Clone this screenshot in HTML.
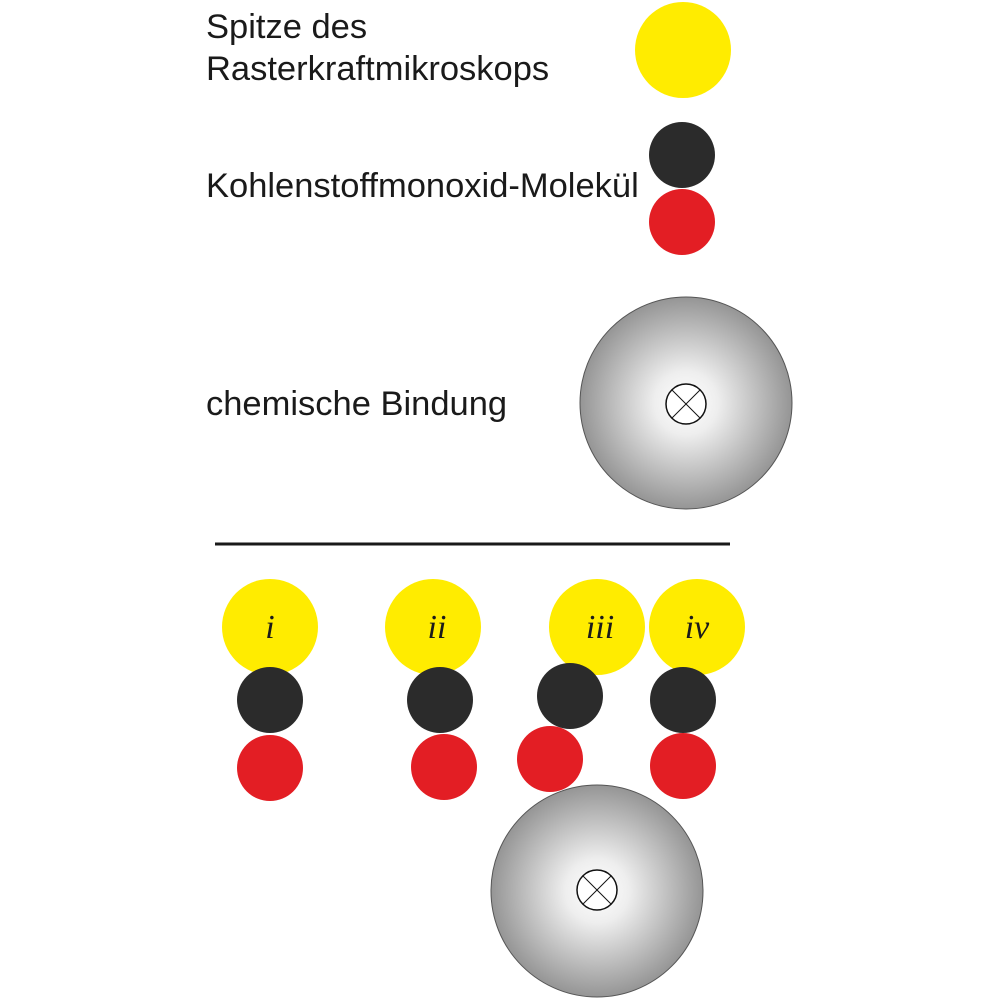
<!DOCTYPE html>
<html><head><meta charset="utf-8"><style>
html,body{margin:0;padding:0;background:#fff;}
</style></head><body>
<svg width="1000" height="1000" viewBox="0 0 1000 1000" xmlns="http://www.w3.org/2000/svg">
<defs>
<radialGradient id="g" cx="50%" cy="50%" r="50%">
<stop offset="0" stop-color="#ffffff"/>
<stop offset="0.3" stop-color="#eeeeee"/>
<stop offset="1" stop-color="#959595"/>
</radialGradient>
</defs>
<g font-family="Liberation Sans, Arial, sans-serif" font-size="34.5" fill="#1a1a1a">
<text x="206" y="38">Spitze des</text>
<text x="206" y="80">Rasterkraftmikroskops</text>
<text x="206" y="197">Kohlenstoffmonoxid-Molekül</text>
<text x="206" y="415">chemische Bindung</text>
</g>
<circle cx="683" cy="50" r="48" fill="#ffec00"/>
<circle cx="682" cy="155" r="33" fill="#2b2b2b"/>
<circle cx="682" cy="222" r="33" fill="#e31e24"/>
<circle cx="686" cy="403" r="106" fill="url(#g)" stroke="#555" stroke-width="1"/>
<g stroke="#111" stroke-width="1.5" fill="#fff">
<circle cx="686" cy="404" r="20"/>
<line x1="672" y1="390" x2="700" y2="418" stroke-width="1"/>
<line x1="700" y1="390" x2="672" y2="418" stroke-width="1"/>
</g>
<line x1="215" y1="544" x2="730" y2="544" stroke="#1a1a1a" stroke-width="3"/>
<circle cx="270" cy="627" r="48" fill="#ffec00"/>
<circle cx="433" cy="627" r="48" fill="#ffec00"/>
<circle cx="597" cy="627" r="48" fill="#ffec00"/>
<circle cx="697" cy="627" r="48" fill="#ffec00"/>
<circle cx="597" cy="891" r="106" fill="url(#g)" stroke="#555" stroke-width="1"/>
<g stroke="#111" stroke-width="1.5" fill="#fff">
<circle cx="597" cy="890" r="20"/>
<line x1="583" y1="876" x2="611" y2="904" stroke-width="1"/>
<line x1="611" y1="876" x2="583" y2="904" stroke-width="1"/>
</g>
<circle cx="270" cy="700" r="33" fill="#2b2b2b"/>
<circle cx="270" cy="768" r="33" fill="#e31e24"/>
<circle cx="440" cy="700" r="33" fill="#2b2b2b"/>
<circle cx="444" cy="767" r="33" fill="#e31e24"/>
<circle cx="570" cy="696" r="33" fill="#2b2b2b"/>
<circle cx="550" cy="759" r="33" fill="#e31e24"/>
<circle cx="683" cy="700" r="33" fill="#2b2b2b"/>
<circle cx="683" cy="766" r="33" fill="#e31e24"/>
<g font-family="Liberation Serif, serif" font-style="italic" font-size="34" fill="#1a1a1a" text-anchor="middle">
<text x="270" y="638">i</text>
<text x="437" y="638">ii</text>
<text x="600" y="638">iii</text>
<text x="697" y="638">iv</text>
</g>
</svg>
</body></html>
